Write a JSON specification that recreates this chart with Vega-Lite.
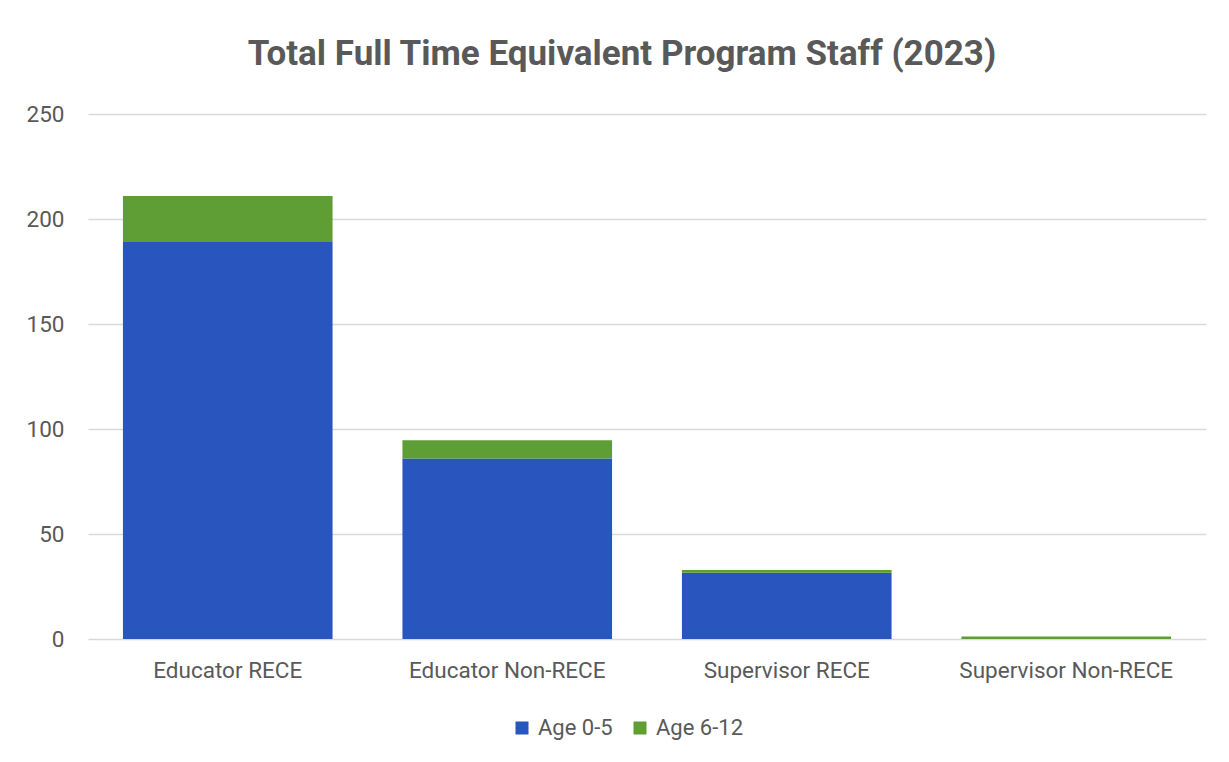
{
  "$schema": "https://vega.github.io/schema/vega-lite/v6.json",
  "width": 1118,
  "height": 525,
  "autosize": {"type": "none"},
  "padding": {"left": 88, "top": 114, "right": 23, "bottom": 123},
  "background": "white",
  "title": {
    "text": "Total Full Time Equivalent Program Staff (2023)",
    "fontSize": 35,
    "font": "Roboto",
    "fontWeight": "bold",
    "color": "#595959",
    "anchor": "middle",
    "offset": 31,
    "dx": -25
  },
  "data": {
    "values": [
      {"role": "Educator RECE", "age": "Age 0-5", "fte": 189.4},
      {"role": "Educator RECE", "age": "Age 6-12", "fte": 21.6},
      {"role": "Educator Non-RECE", "age": "Age 0-5", "fte": 86.0},
      {"role": "Educator Non-RECE", "age": "Age 6-12", "fte": 8.6},
      {"role": "Supervisor RECE", "age": "Age 0-5", "fte": 31.6},
      {"role": "Supervisor RECE", "age": "Age 6-12", "fte": 1.3},
      {"role": "Supervisor Non-RECE", "age": "Age 0-5", "fte": 0},
      {"role": "Supervisor Non-RECE", "age": "Age 6-12", "fte": 1.2}
    ]
  },
  "mark": {"type": "bar"},
  "encoding": {
    "x": {
      "field": "role",
      "type": "nominal",
      "sort": null,
      "scale": {"paddingInner": 0.25, "paddingOuter": 0.125},
      "axis": {
        "title": null,
        "labelAngle": 0,
        "labelFontSize": 22.5,
        "labelFont": "Roboto",
        "labelColor": "#595959",
        "labelPadding": 20,
        "labelLimit": 0,
        "domain": false,
        "ticks": false
      }
    },
    "y": {
      "field": "fte",
      "type": "quantitative",
      "stack": "zero",
      "scale": {"domain": [0, 250]},
      "axis": {
        "title": null,
        "values": [0, 50, 100, 150, 200, 250],
        "labelFontSize": 22.5,
        "labelFont": "Roboto",
        "labelColor": "#595959",
        "labelPadding": 24,
        "domain": false,
        "ticks": false,
        "gridColor": "#d9d9d9",
        "gridWidth": 1.3
      }
    },
    "color": {
      "field": "age",
      "type": "nominal",
      "scale": {"domain": ["Age 0-5", "Age 6-12"], "range": ["#2955BE", "#5E9E35"]},
      "legend": {
        "title": null,
        "orient": "none",
        "legendX": 423,
        "legendY": 603,
        "direction": "horizontal",
        "symbolType": "square",
        "symbolSize": 169,
        "symbolStrokeWidth": 0,
        "labelFontSize": 22,
        "labelFont": "Roboto",
        "labelColor": "#595959",
        "labelOffset": 5,
        "columnPadding": 16
      }
    },
    "order": {"field": "age", "sort": "ascending"}
  },
  "config": {"view": {"stroke": null}}
}
